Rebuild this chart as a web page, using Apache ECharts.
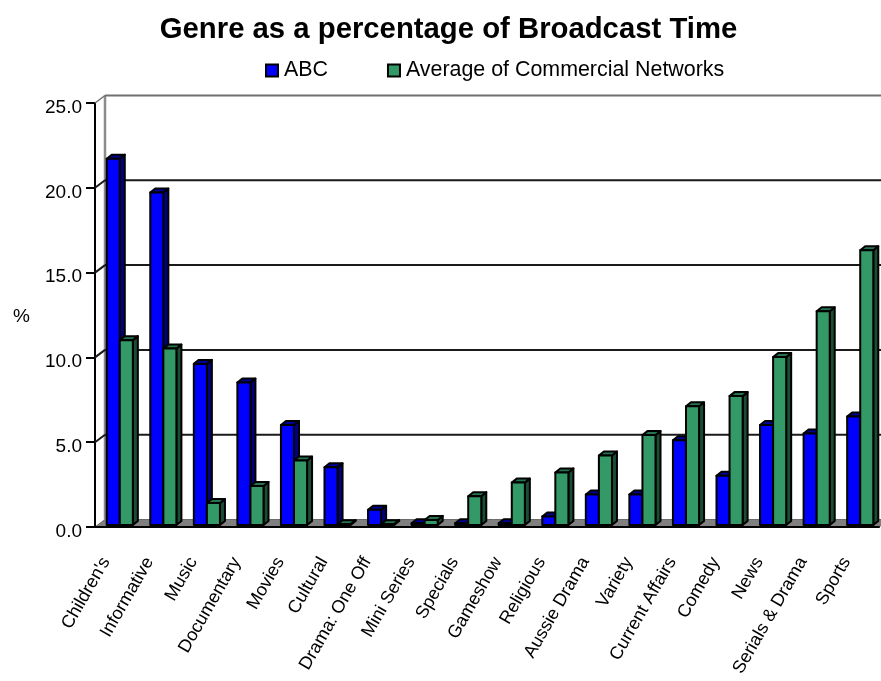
<!DOCTYPE html>
<html>
<head>
<meta charset="utf-8">
<style>html,body{margin:0;padding:0;background:#fff}#c{width:881px;height:681px}</style>
<script src="https://cdn.jsdelivr.net/npm/echarts@6/dist/echarts.min.js"></script>
</head>
<body>
<div id="c"></div>
<script>
const categories = ["Children's","Informative","Music","Documentary","Movies","Cultural","Drama: One Off","Mini Series","Specials","Gameshow","Religious","Aussie Drama","Variety","Current Affairs","Comedy","News","Serials & Drama","Sports"];
const abcValues = [21.6,19.6,9.5,8.4,5.9,3.4,0.9,0.1,0.1,0.1,0.5,1.8,1.8,5.0,2.9,5.9,5.4,6.4];
const commercialValues = [10.9,10.4,1.3,2.3,3.8,0.05,0.05,0.3,1.7,2.5,3.1,4.1,5.3,7.0,7.6,9.9,12.6,16.2];
const yTicks = [0,5,10,15,20,25];
const FONT = '"Liberation Sans", Arial, sans-serif';
const chart = echarts.init(document.getElementById('c'), null, {renderer:'canvas'});

function bar3d(front, side, top, slot) {
  return function (params, api) {
    const band = api.size([1, 0])[0];
    const p = api.coord([api.value(0), api.value(1)]);
    const b = api.coord([api.value(0), 0]);
    const w = band * 0.3;
    const cx = p[0] + 3;
    const x0 = slot === 0 ? cx - w : cx;
    const x1 = x0 + w;
    const yt = p[1] - 2, yb = b[1] - 2;
    const dx = 5, dy = 4;
    const line = {stroke:'#000', lineWidth:2, lineJoin:'round'};
    return {type:'group', children:[
      {type:'polygon', shape:{points:[[x1,yt],[x1+dx,yt-dy],[x1+dx,yb-dy],[x1,yb]]}, style:Object.assign({fill:side},line)},
      {type:'polygon', shape:{points:[[x0,yt],[x0+dx,yt-dy],[x1+dx,yt-dy],[x1,yt]]}, style:Object.assign({fill:top},line)},
      {type:'rect', shape:{x:x0,y:yt,width:w,height:yb-yt}, style:Object.assign({fill:front},line)}
    ]};
  };
}

function wall(params, api) {
  const cs = params.coordSys;
  const v = api.value(1);
  const y = api.coord([0, v])[1];
  const dx = 10, dy = 7.5;
  const xL = cs.x, xR = cs.x + cs.width;
  const kids = [];
  if (v === 0) {
    kids.push({type:'polygon', shape:{points:[[xL,y],[xL+dx,y-dy],[xR+dx,y-dy],[xR,y]]}, style:{fill:'#808080', stroke:'#6a6a6a', lineWidth:1}});
    kids.push({type:'line', shape:{x1:xL+dx,y1:y-dy,x2:xL+dx,y2:cs.y-dy}, style:{stroke:'#8c8c8c', lineWidth:2.5}});
  } else {
    const top = v === yTicks[yTicks.length-1];
    const col = top ? '#707070' : '#1a1a1a';
    kids.push({type:'line', shape:{x1:xL,y1:y,x2:xL+dx,y2:y-dy}, style:{stroke:col, lineWidth:top?1.5:2}});
    kids.push({type:'line', shape:{x1:xL+dx,y1:y-dy,x2:xR+dx,y2:y-dy}, style:{stroke:col, lineWidth:2}});
  }
  return {type:'group', children:kids};
}

chart.setOption({
  animation:false,
  backgroundColor:'#fff',
  title:{text:'Genre as a percentage of Broadcast Time', left:443.5, top:10, textAlign:'center',
    textStyle:{fontFamily:FONT, fontSize:29.3, fontWeight:'bold', color:'#000'}},
  legend:{left:265, top:60, padding:0, itemWidth:12, itemHeight:12, itemGap:59, data:['ABC','Average of Commercial Networks'], selectedMode:false, icon:'rect',
    textStyle:{fontFamily:FONT, fontSize:21.4, color:'#000', padding:[0,0,0,1]}},
  grid:{left:95, right:2, top:103, bottom:154, outerBoundsMode:'none'},
  xAxis:{type:'category', data:categories, boundaryGap:true, z:3,
    axisLine:{lineStyle:{color:'#000', width:2}},
    axisTick:{length:9, lineStyle:{color:'#000', width:2}, alignWithLabel:false},
    axisLabel:{interval:0, rotate:60, fontFamily:FONT, fontSize:18, color:'#000', margin:31, align:'right', verticalAlign:'bottom', padding:[0,6,0,0]},
    splitLine:{show:false}},
  yAxis:{type:'value', min:0, max:25, interval:5, name:'%', nameLocation:'middle', nameRotate:0, nameGap:65,
    nameTextStyle:{fontFamily:FONT, fontSize:19, color:'#000', verticalAlign:'top', padding:[-8,0,0,0]},
    axisLine:{show:true, lineStyle:{color:'#000', width:2}},
    axisTick:{show:true, length:9, lineStyle:{color:'#000', width:2}},
    axisLabel:{formatter:v=>v.toFixed(1), fontFamily:FONT, fontSize:19, color:'#000', margin:13, verticalAlign:'top', padding:[-5,0,0,0]},
    splitLine:{show:false}},
  series:[
    {type:'custom', name:'wall', z:1, silent:true, renderItem:wall, data:yTicks.map(v=>[0,v]), encode:{x:0,y:1}},
    {type:'custom', name:'ABC', z:4, renderItem:bar3d('#0000ff','#000080','#000099',0),
      itemStyle:{color:'#0000ff', borderColor:'#000', borderWidth:2},
      data:abcValues.map((v,i)=>[i,v]), encode:{x:0,y:1}},
    {type:'custom', name:'Average of Commercial Networks', z:5, renderItem:bar3d('#339966','#1a4d33','#267350',1),
      itemStyle:{color:'#339966', borderColor:'#000', borderWidth:2},
      data:commercialValues.map((v,i)=>[i,v]), encode:{x:0,y:1}}
  ]
});
</script>
</body>
</html>
